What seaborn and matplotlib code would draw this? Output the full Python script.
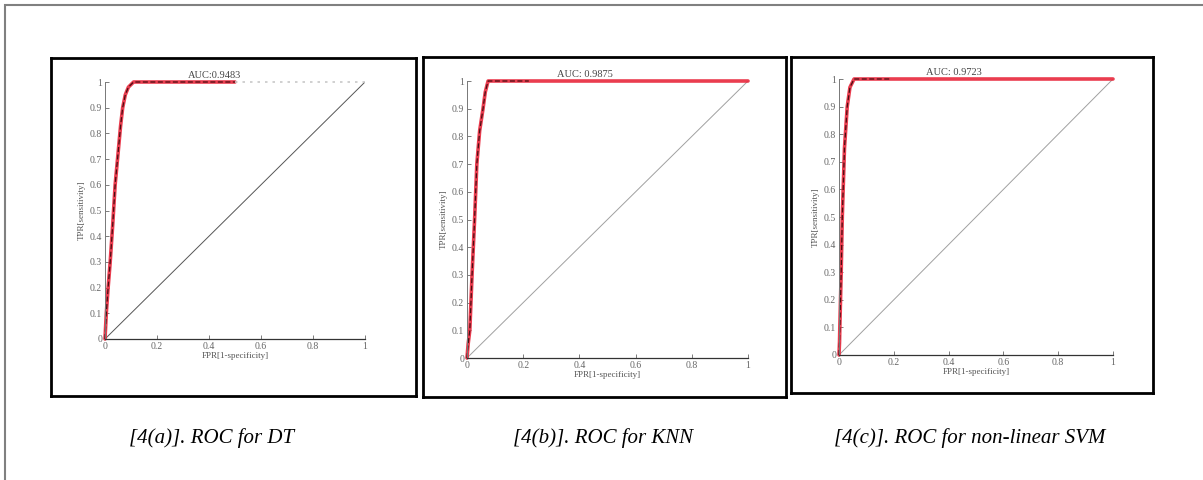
import matplotlib
matplotlib.use("Agg")
import matplotlib.pyplot as plt
import seaborn as sns
import pandas as pd
from matplotlib.patches import Rectangle

# valores
titulos = ["AUC:0.9483", "AUC: 0.9875", "AUC: 0.9723"]
legendas = ["[4(a)]. ROC for DT", "[4(b)]. ROC for KNN", "[4(c)]. ROC for non-linear SVM"]

dt_fpr = [0, 0.005, 0.012, 0.02, 0.03, 0.039, 0.05, 0.06, 0.068, 0.078, 0.09, 0.11, 0.2, 0.35, 0.5]
dt_tpr = [0, 0.1, 0.2, 0.3, 0.45, 0.6, 0.72, 0.83, 0.9, 0.95, 0.98, 1.0, 1.0, 1.0, 1.0]
dt_cauda_fpr = [0.5, 1.0]
dt_cauda_tpr = [1.0, 1.0]

knn_fpr = [0, 0.004, 0.01, 0.018, 0.027, 0.035, 0.045, 0.057, 0.065, 0.075, 0.22, 1.0]
knn_tpr = [0, 0.05, 0.1, 0.3, 0.5, 0.7, 0.82, 0.9, 0.96, 1.0, 1.0, 1.0]

svm_fpr = [0, 0.002, 0.003, 0.008, 0.012, 0.02, 0.03, 0.04, 0.055, 0.19, 1.0]
svm_tpr = [0, 0.05, 0.1, 0.3, 0.5, 0.75, 0.9, 0.97, 1.0, 1.0, 1.0]

# ate onde vai a linha escura tracejada em cima da vermelha
cortes = [0.5, 0.22, 0.19]

diag = [0, 1]
xticks = [0, 0.2, 0.4, 0.6, 0.8, 1]
yticks = [0, 0.1, 0.2, 0.3, 0.4, 0.5, 0.6, 0.7, 0.8, 0.9, 1]

sns.set_style("white")
plt.rcParams['font.family'] = ['Liberation Serif', 'DejaVu Serif']

W, H = 1203, 480
fig = plt.figure(figsize=(W / 100, H / 100), dpi=100)


def caixa(x0, y0, x1, y1):
    # converte pixels (topo = 0) para fracao da figura
    return [x0 / W, 1 - y1 / H, (x1 - x0) / W, (y1 - y0) / H]


# moldura cinza externa
fig.patches.append(Rectangle((5 / W, -0.1), 1.2, 1 - 5 / H + 0.1, transform=fig.transFigure,
                             fill=False, edgecolor='#808080', lw=1.5))

molduras = [(51, 58, 416, 396), (423, 57, 786, 397), (791, 57, 1153, 393)]
eixos = [(105, 82, 365, 339), (467, 81, 748, 358), (839, 79, 1113, 355)]
centros_leg = [212, 603, 970]
curvas = [(dt_fpr, dt_tpr), (knn_fpr, knn_tpr), (svm_fpr, svm_tpr)]

for i in range(3):
    fr = fig.add_axes(caixa(*molduras[i]))
    fr.set_xticks([])
    fr.set_yticks([])
    for s in fr.spines.values():
        s.set_color('black')
        s.set_linewidth(2)

    ax = fig.add_axes(caixa(*eixos[i]))
    ax.patch.set_alpha(0)
    fpr, tpr = curvas[i]
    df = pd.DataFrame({'FPR': fpr, 'TPR': tpr})

    cor_diag = '#555555' if i == 0 else '#a0a0a0'
    sns.lineplot(x=diag, y=diag, ax=ax, color=cor_diag, lw=0.7, estimator=None, sort=False)
    sns.lineplot(data=df, x='FPR', y='TPR', ax=ax, color='#e8283c', lw=2.6,
                 estimator=None, sort=False, clip_on=False, alpha=0.9)
    escuro = df[df['FPR'] <= cortes[i]]
    sns.lineplot(data=escuro, x='FPR', y='TPR', ax=ax, color='#4a0d12', lw=0.9,
                 linestyle=(0, (4, 2)), estimator=None, sort=False, clip_on=False)
    if i == 0:
        sns.lineplot(x=dt_cauda_fpr, y=dt_cauda_tpr, ax=ax, color='#c8c8c8', lw=1.2,
                     linestyle=(0, (1.5, 3)), estimator=None, sort=False, clip_on=False)

    ax.set_xlim(0, 1)
    ax.set_ylim(0, 1)
    ax.set_xticks(xticks)
    ax.set_xticklabels(['0', '0.2', '0.4', '0.6', '0.8', '1'])
    ax.set_yticks(yticks)
    ax.set_yticklabels(['0', '0.1', '0.2', '0.3', '0.4', '0.5', '0.6', '0.7', '0.8', '0.9', '1'])
    ax.tick_params(direction='in', length=3, width=0.6, colors='#666666', labelsize=7, pad=2,
                   left=True, bottom=True)
    for lado in ['top', 'right']:
        ax.spines[lado].set_visible(False)
    ax.spines['bottom'].set_color('#333333')
    ax.spines['bottom'].set_linewidth(0.9)
    ax.spines['left'].set_color('#777777')
    ax.spines['left'].set_linewidth(0.7)

    ax.set_xlabel('FPR[1-specificity]', fontsize=6.5, color='#555555', labelpad=1)
    ax.set_ylabel('TPR[sensitivity]', fontsize=6.5, color='#555555', labelpad=3)
    ax.set_title(titulos[i], fontsize=7.5, color='#444444', pad=3, x=0.42)

    fig.text(centros_leg[i] / W, 1 - 438 / H, legendas[i], ha='center', va='center',
             fontsize=15, style='italic', color='black')

fig.savefig('out.png', dpi=100)
